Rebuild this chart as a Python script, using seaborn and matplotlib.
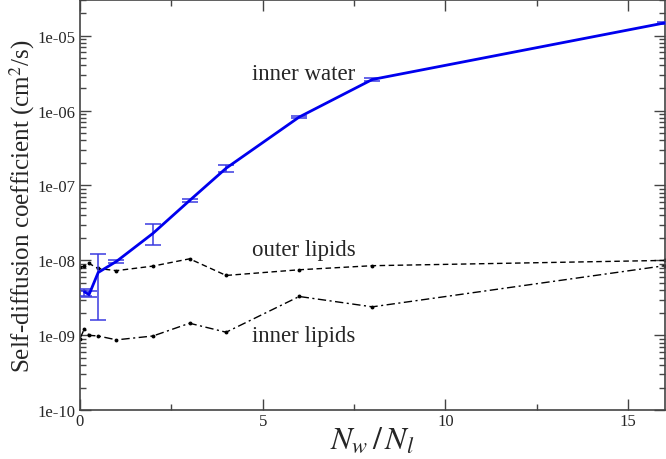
import numpy as np
import pandas as pd
import matplotlib
matplotlib.use("Agg")
import matplotlib.pyplot as plt
import matplotlib.ticker as mticker
import seaborn as sns

# ---- data ----
water_x = [0.125, 0.25, 0.5, 1, 2, 3, 4, 6, 8, 16]
water_y = [3.8e-9, 3.5e-9, 6.9e-9, 9.7e-9, 2.3e-8, 6.3e-8, 1.7e-7, 8.2e-7, 2.6e-6, 1.48e-5]
water_lo = [3.4e-9, 3.2e-9, 1.6e-9, 9.2e-9, 1.6e-8, 6.0e-8, 1.5e-7, 7.9e-7, 2.5e-6, 1.45e-5]
water_hi = [4.1e-9, 3.9e-9, 1.2e-8, 1.0e-8, 3.1e-8, 6.6e-8, 1.9e-7, 8.5e-7, 2.7e-6, 1.5e-5]

outer_x = [0, 0.125, 0.25, 0.5, 1, 2, 3, 4, 6, 8, 16]
outer_y = [8.2e-9, 8.3e-9, 9.1e-9, 7.8e-9, 7.3e-9, 8.4e-9, 1.05e-8, 6.3e-9, 7.5e-9, 8.5e-9, 1.0e-8]

inner_x = [0, 0.125, 0.25, 0.5, 1, 2, 3, 4, 6, 8, 16]
inner_y = [9.0e-10, 1.23e-9, 1.0e-9, 9.8e-10, 8.7e-10, 9.8e-10, 1.45e-9, 1.1e-9, 3.3e-9, 2.4e-9, 8.5e-9]

labels = ["inner water", "outer lipids", "inner lipids"]
label_pos = [(4.7, 3.1e-6), (4.7, 1.4e-8), (4.7, 1.0e-9)]
x_ticks = [0, 5, 10, 15]
y_ticks = [1e-10, 1e-9, 1e-8, 1e-7, 1e-6, 1e-5]

sns.set_style("ticks")
plt.rcParams["font.family"] = ["Liberation Serif", "DejaVu Serif"]
plt.rcParams["mathtext.fontset"] = "stix"

fig = plt.figure(figsize=(6.66, 4.6), dpi=100)
ax = fig.add_axes([0.120, 0.106, 0.878, 0.892])

df_w = pd.DataFrame({"x": water_x, "y": water_y})
df_o = pd.DataFrame({"x": outer_x, "y": outer_y})
df_i = pd.DataFrame({"x": inner_x, "y": inner_y})

sns.lineplot(data=df_o, x="x", y="y", ax=ax, color="black", lw=1.0,
             linestyle=(0, (4, 2.5)), marker="o", markersize=2.8,
             markeredgewidth=0, estimator=None, sort=False)
sns.lineplot(data=df_i, x="x", y="y", ax=ax, color="black", lw=1.0,
             linestyle=(0, (6, 2.5, 1.5, 2.5)), marker="o", markersize=2.8,
             markeredgewidth=0, estimator=None, sort=False)

wy = np.array(water_y)
yerr = np.vstack([wy - np.array(water_lo), np.array(water_hi) - wy])
ax.errorbar(water_x, water_y, yerr=yerr, fmt="none", ecolor="#3a3ae0",
            elinewidth=1.1, capsize=6, capthick=1.1, zorder=3)
sns.lineplot(data=df_w, x="x", y="y", ax=ax, color="#0000ee", lw=2.0,
             estimator=None, sort=False, zorder=4)

for lab, (tx, ty) in zip(labels, label_pos):
    ax.text(tx, ty, lab, fontsize=16.5, ha="left", va="center")

ax.set_yscale("log")
ax.set_xlim(0, 16)
ax.set_ylim(1e-10, 3.0e-5)
ax.set_xticks(x_ticks)
ax.xaxis.set_minor_locator(mticker.MultipleLocator(2.5))
ax.set_yticks(y_ticks)
ax.yaxis.set_major_formatter(mticker.FuncFormatter(lambda v, p: "%.0e" % v))
ax.yaxis.set_minor_locator(mticker.LogLocator(base=10, subs=np.arange(2, 10)))
ax.yaxis.set_minor_formatter(mticker.NullFormatter())

ax.tick_params(which="both", direction="in", top=True, right=True,
               color="#444444", labelsize=12)
ax.tick_params(which="major", length=8, width=1)
ax.tick_params(which="minor", length=4, width=1)
ax.tick_params(axis="x", pad=2)
for s in ax.spines.values():
    s.set_color("#444444")
    s.set_linewidth(1.2)

ax.set_xlabel(r"$N_w\,/\,N_l$", fontsize=23, labelpad=-3)
ax.set_ylabel(r"Self-diffusion coefficient (cm$^2$/s)", fontsize=18, labelpad=0)

fig.savefig("out.png", dpi=100)
